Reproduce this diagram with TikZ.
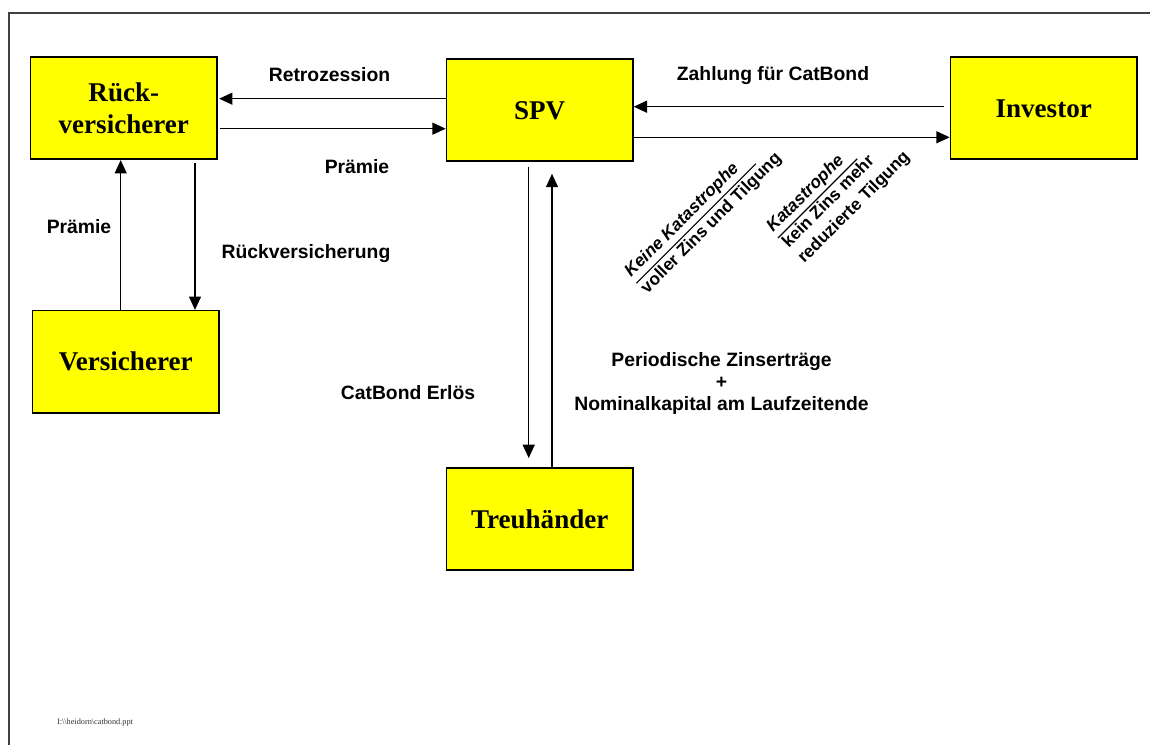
\documentclass[tikz,border=0pt]{standalone}
\usepackage{fontspec}
\setmainfont{Liberation Sans}
\newfontfamily\tnr{Liberation Serif}
\usetikzlibrary{arrows.meta}
\definecolor{boxyellow}{RGB}{255,255,0}
\begin{document}
\begin{tikzpicture}[x=0.75pt,y=-0.75pt,
  box/.style={draw=black,fill=boxyellow,line width=1.2pt,rectangle,inner sep=0pt,
     minimum width=139.8pt,minimum height=76.5pt,align=center,
     font={\tnr\bfseries\fontsize{20.3}{23.8}\selectfont}},
  arr/.style={line width=0.95pt,-{Triangle[length=10pt,width=9pt]}},
  lbl/.style={inner sep=0pt,font={\bfseries\fontsize{14.5}{16.5}\selectfont},align=center},
  rlbl/.style={inner sep=0pt,anchor=base west,transform shape,font={\bfseries\fontsize{13}{15}\selectfont}},
  rule/.style={line width=0.9pt}]
\useasboundingbox (0,0) rectangle (1150,745);
% frame
\draw[line width=1.5pt,black!75] (9,760) -- (9,13) -- (1170,13);
% boxes
\node[box] (rk) at (123.8,108.3) {Rück-\\versicherer};
\node[box] (vers) at (125.7,361.7) {Versicherer};
\node[box] (spv) at (539.7,110.3) {SPV};
\node[box] (inv) at (1043.7,108.3) {Investor};
\node[box] (treu) at (539.7,519.2) {Treuhänder};
% arrows
\draw[arr,shorten >=1pt] (spv.west |- 0,98.7) -- (rk.east |- 0,98.7);
\draw[arr,shorten <=1.5pt] (rk.east |- 0,128.7) -- (spv.west |- 0,128.7);
\draw[arr,shorten <=4.5pt] (inv.west |- 0,106.7) -- (spv.east |- 0,106.7);
\draw[arr] (spv.east |- 0,137.3) -- (inv.west |- 0,137.3);
\draw[arr,shorten <=2pt] (rk.south -| 195,0) -- (vers.north -| 195,0);
\draw[arr] (vers.north -| 120.7,0) -- (rk.south -| 120.7,0);
\draw[arr,shorten <=3.5pt,shorten >=7pt] (spv.south -| 528.7,0) -- (treu.north -| 528.7,0);
\draw[arr,shorten >=8.8pt] (treu.north -| 552,0) -- (spv.south -| 552,0);
% labels
\node[lbl] (lretro) at (329.5,75) {Retrozession};
\node[lbl] (lpr1) at (357,167) {Prämie};
\node[lbl] (lpr2) at (79,226.7) {Prämie};
\node[lbl] (lrv) at (306,254) {Rückversicherung};
\node[lbl] (lzahl) at (773,76) {Zahlung für CatBond};
\node[lbl] (lerl) at (408,393) {CatBond Erlös};
\node[lbl] (lper) at (721.5,383.5) {Periodische Zinserträge\\+\\Nominalkapital am Laufzeitende};
% rotated blocks
\begin{scope}[shift={(631,278)},rotate=45]
  \node[rlbl] (k1a) at (0,0) {\itshape Keine Katastrophe};
  \draw[rule] (0,7.5) -- (169,7.5);
  \node[rlbl] (k1b) at (0,23) {voller Zins und Tilgung};
\end{scope}
\begin{scope}[shift={(773,233)},rotate=45]
  \node[rlbl] (k2a) at (0,0) {\itshape Katastrophe};
  \draw[rule] (0,7) -- (112,7);
  \node[rlbl] (k2b) at (0,22) {kein Zins mehr};
  \node[rlbl] (k2c) at (0,44) {reduzierte Tilgung};
\end{scope}
% footer
\node[inner sep=0pt,font={\tnr\fontsize{6.2}{7}\selectfont},text=black!80] (foot) at (95,723) {I:\textbackslash\textbackslash heidorn\textbackslash catbond.ppt};
\end{tikzpicture}
\end{document}
